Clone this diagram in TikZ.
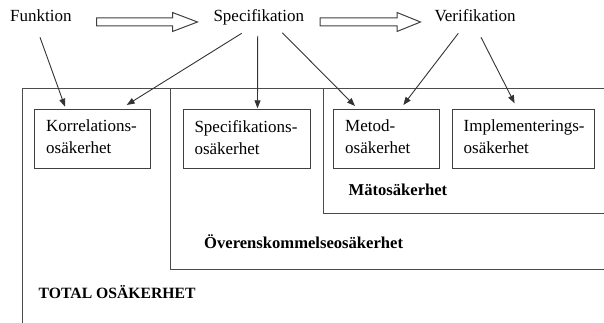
\documentclass[tikz,border=0pt]{standalone}
\usepackage{fontspec}
\setmainfont{Liberation Serif}
\usetikzlibrary{arrows.meta,calc}
\begin{document}
\begin{tikzpicture}[x=1pt,y=-1pt,
  lbl/.style={inner sep=0pt, anchor=base west, font=\rmfamily\fontsize{17}{22}\selectfont},
  blbl/.style={inner sep=0pt, anchor=base west, font=\rmfamily\fontsize{16.6}{22}\selectfont\bfseries},
  ubox/.style={draw=black!75, line width=1pt, inner sep=0pt, rectangle, anchor=north west, minimum height=58.7pt},
  btxt/.style={inner sep=0pt, anchor=north west, align=left, font=\rmfamily\fontsize{17}{22}\selectfont},
  frame/.style={draw=black!70, line width=1pt},
  conn/.style={draw=black!80, line width=0.9pt, -{Triangle[length=8pt,width=6pt]}},
  hollow/.style={draw=black!75, line width=1pt, fill=white, line join=miter}]
\useasboundingbox (0,0) rectangle (604,323);

% frames
\draw[frame] (22,324) -- (22,89) -- (606,89);
\draw[frame] (170.3,89) -- (170.3,269) -- (606,269);
\draw[frame] (323.8,89) -- (323.8,213.3) -- (606,213.3);

% top labels
\node[lbl] (fun) at (10,22) {Funktion};
\node[lbl] (spe) at (213.3,22) {Specifikation};
\node[lbl] (ver) at (434.3,22) {Verifikation};

% hollow arrows
\draw[hollow] (96.5,18) -- (172.5,18) -- (172.5,12.5) -- (197.5,22) -- (172.5,31.5) -- (172.5,26) -- (96.5,26) -- cycle;
\draw[hollow] (320,18) -- (397,18) -- (397,12.5) -- (420.5,22) -- (397,31.5) -- (397,26) -- (320,26) -- cycle;

% boxes
\node[ubox, minimum width=116pt] (kor) at (34,109.3) {};
\node[ubox, minimum width=126.7pt] (sbx) at (183.3,109.3) {};
\node[ubox, minimum width=105.7pt] (mbx) at (333.3,109.3) {};
\node[ubox, minimum width=142pt] (ibx) at (452.3,109.3) {};

\node[btxt] (kort) at ($(kor.north west)+(12,10.6)$) {Korrelations-\\osäkerhet};
\node[btxt] (sbxt) at ($(sbx.north west)+(11,10.6)$) {Specifikations-\\osäkerhet};
\node[btxt] (mbxt) at ($(mbx.north west)+(11.7,10.6)$) {Metod-\\osäkerhet};
\node[btxt] (ibxt) at ($(ibx.north west)+(11.2,10.6)$) {Implementerings-\\osäkerhet};

% bold labels
\node[blbl] (mat) at (348.4,195.5) {Mätosäkerhet};
\node[blbl] (ove) at (204,248) {Överenskommelseosäkerhet};
\node[blbl, font=\rmfamily\fontsize{15.7}{20}\selectfont\bfseries] (tot) at (38.5,298.6) {TOTAL OSÄKERHET};

% connectors
\draw[conn] ($(fun.base west)+(30,15.3)$) -- ($(kor.north west)+(31,-2.6)$);
\draw[conn] ($(spe.base west)+(28.4,11.3)$) -- ($(kor.north west)+(92.7,-4.3)$);
\draw[conn] ($(spe.base west)+(44.4,14)$) -- ($(sbx.north west)+(74.2,-1)$);
\draw[conn] ($(spe.base west)+(69,10.7)$) -- ($(mbx.north west)+(21.7,-3.3)$);
\draw[conn] ($(ver.base west)+(24,11.3)$) -- ($(mbx.north west)+(70,-4.3)$);
\draw[conn] ($(ver.base west)+(46.7,15.3)$) -- ($(ibx.north west)+(62.3,-6)$);
\end{tikzpicture}
\end{document}
